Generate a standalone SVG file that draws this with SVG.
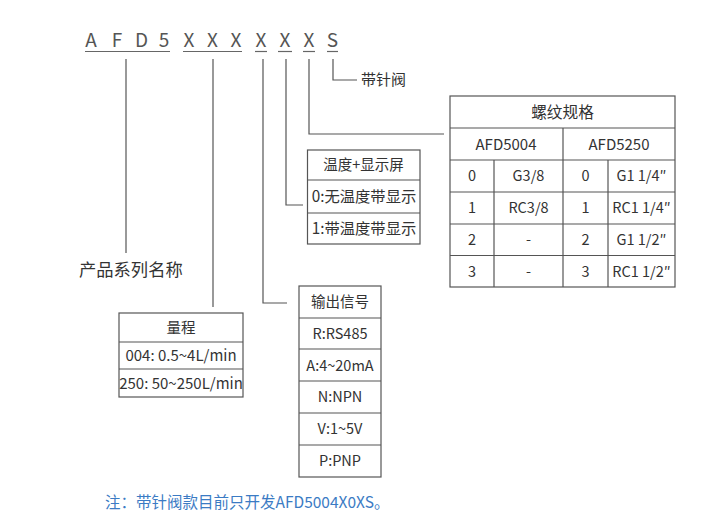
<svg xmlns="http://www.w3.org/2000/svg" width="704" height="524" viewBox="0 0 704 524">
<style>
  text { font-family: "Noto Sans CJK SC", "Noto Sans", sans-serif; fill: #333; }
  .hd { font-size: 19px; fill: #555; text-anchor: middle; }
  .c { text-anchor: middle; }
  .t14 { font-size: 14.5px; }
  .t15 { font-size: 15px; }
  .t16 { font-size: 15.3px; }
  .box { fill: #fff; stroke: #555; stroke-width: 1.2; }
  .ln { stroke: #555; stroke-width: 1.2; fill: none; }
  .ul { stroke: #666; stroke-width: 1.2; }
  .note { font-size: 15.5px; fill: #3b7bc4; }
</style>
<rect width="704" height="524" fill="#fff"/>

<g id="code">
  <text class="hd" x="91" y="47">A</text>
  <text class="hd" x="117" y="47">F</text>
  <text class="hd" x="141.5" y="47">D</text>
  <text class="hd" x="164" y="47">5</text>
  <text class="hd" x="189" y="47">X</text>
  <text class="hd" x="212.5" y="47">X</text>
  <text class="hd" x="236" y="47">X</text>
  <text class="hd" x="261" y="47">X</text>
  <text class="hd" x="285" y="47">X</text>
  <text class="hd" x="309" y="47">X</text>
  <text class="hd" x="332.5" y="47">S</text>
  <line class="ul" x1="85" y1="51.5" x2="170" y2="51.5"/>
  <line class="ul" x1="183" y1="51.5" x2="242" y2="51.5"/>
  <line class="ul" x1="255" y1="51.5" x2="267" y2="51.5"/>
  <line class="ul" x1="278" y1="51.5" x2="292" y2="51.5"/>
  <line class="ul" x1="303" y1="51.5" x2="315" y2="51.5"/>
  <line class="ul" x1="327" y1="51.5" x2="338" y2="51.5"/>
</g>

<g id="connectors">
  <polyline class="ln" points="126,59 126,253"/>
  <polyline class="ln" points="213,59 213,307"/>
  <polyline class="ln" points="263,59 263,303 287,303"/>
  <polyline class="ln" points="286,59 286,205 303,205"/>
  <polyline class="ln" points="309,59 309,134 444,134"/>
  <polyline class="ln" points="333,59 333,80 357,80"/>
</g>

<g id="series">
  <text x="79" y="276" style="font-size:17.3px">产品系列名称</text>
</g>

<g id="needle">
  <text x="361" y="85" class="t15">带针阀</text>
</g>

<g id="range">
  <rect class="box" x="119" y="313" width="124" height="84"/>
  <line class="ln" x1="119" y1="342" x2="243" y2="342"/>
  <line class="ln" x1="119" y1="369" x2="243" y2="369"/>
  <text class="c t14" x="181" y="333">量程</text>
  <text class="c t15" x="181" y="361">004: 0.5~4L/min</text>
  <text class="c t15" x="181" y="388.5">250: 50~250L/min</text>
</g>

<g id="temp">
  <rect class="box" x="307.5" y="150" width="112.5" height="94"/>
  <line class="ln" x1="307.5" y1="180" x2="420" y2="180"/>
  <line class="ln" x1="307.5" y1="213" x2="420" y2="213"/>
  <text class="c t14" x="363.5" y="170">温度+显示屏</text>
  <text class="c t16" x="364" y="202">0:无温度带显示</text>
  <text class="c t16" x="364" y="234">1:带温度带显示</text>
</g>

<g id="signal">
  <rect class="box" x="299" y="286" width="82" height="191"/>
  <line class="ln" x1="299" y1="318" x2="381" y2="318"/>
  <line class="ln" x1="299" y1="349" x2="381" y2="349"/>
  <line class="ln" x1="299" y1="381" x2="381" y2="381"/>
  <line class="ln" x1="299" y1="413" x2="381" y2="413"/>
  <line class="ln" x1="299" y1="445" x2="381" y2="445"/>
  <text class="c t14" x="340" y="307">输出信号</text>
  <text class="c t14" x="340" y="339">R:RS485</text>
  <text class="c t14" x="340" y="370.5">A:4~20mA</text>
  <text class="c t14" x="340" y="402">N:NPN</text>
  <text class="c t14" x="340" y="434">V:1~5V</text>
  <text class="c t14" x="340" y="466">P:PNP</text>
</g>

<g id="thread">
  <rect class="box" x="450" y="96" width="225" height="191"/>
  <line class="ln" x1="450" y1="128" x2="675" y2="128"/>
  <line class="ln" x1="450" y1="160" x2="675" y2="160"/>
  <line class="ln" x1="450" y1="192" x2="675" y2="192"/>
  <line class="ln" x1="450" y1="224" x2="675" y2="224"/>
  <line class="ln" x1="450" y1="255.5" x2="675" y2="255.5"/>
  <line class="ln" x1="563" y1="128" x2="563" y2="287"/>
  <line class="ln" x1="494" y1="160" x2="494" y2="287"/>
  <line class="ln" x1="608" y1="160" x2="608" y2="287"/>
  <text class="c" x="562.5" y="118" style="font-size:15.7px">螺纹规格</text>
  <text class="c t15" x="506" y="149.5">AFD5004</text>
  <text class="c t15" x="619" y="149.5">AFD5250</text>
  <text class="c t14" x="472" y="181">0</text>
  <text class="c t14" x="528.5" y="181">G3/8</text>
  <text class="c t14" x="585.5" y="181">0</text>
  <text class="c t14" x="641.5" y="181">G1 1/4″</text>
  <text class="c t14" x="472" y="213">1</text>
  <text class="c t14" x="528.5" y="213">RC3/8</text>
  <text class="c t14" x="585.5" y="213">1</text>
  <text class="c t14" x="641.5" y="213">RC1 1/4″</text>
  <text class="c t14" x="472" y="245">2</text>
  <text class="c t14" x="528.5" y="245">-</text>
  <text class="c t14" x="585.5" y="245">2</text>
  <text class="c t14" x="641.5" y="245">G1 1/2″</text>
  <text class="c t14" x="472" y="276.5">3</text>
  <text class="c t14" x="528.5" y="276.5">-</text>
  <text class="c t14" x="585.5" y="276.5">3</text>
  <text class="c t14" x="641.5" y="276.5">RC1 1/2″</text>
</g>

<g id="note">
  <text class="note" x="105" y="508">注：带针阀款目前只开发AFD5004X0XS。</text>
</g>
</svg>
